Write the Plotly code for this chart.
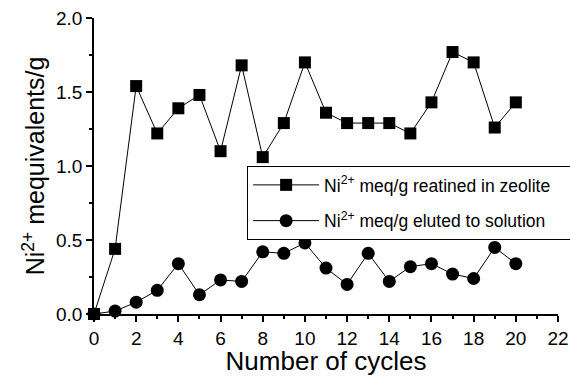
import plotly.graph_objects as go

cycles = list(range(0, 21))
retained = [0.0, 0.44, 1.54, 1.22, 1.39, 1.48, 1.10, 1.68, 1.06, 1.29, 1.70,
            1.36, 1.29, 1.29, 1.29, 1.22, 1.43, 1.77, 1.70, 1.26, 1.43]
eluted = [0.0, 0.02, 0.08, 0.16, 0.34, 0.13, 0.23, 0.22, 0.42, 0.41, 0.48,
          0.31, 0.20, 0.41, 0.22, 0.32, 0.34, 0.27, 0.24, 0.45, 0.34]

fig = go.Figure()
fig.add_trace(go.Scatter(
    x=cycles, y=retained, mode="lines+markers",
    name="Ni<sup>2+</sup> meq/g reatined in zeolite" + "\u00a0" * 6,
    legendgroup="a",
    line=dict(color="black", width=1),
    marker=dict(symbol="square", size=12, color="black"),
    cliponaxis=False))
fig.add_trace(go.Scatter(
    x=cycles, y=eluted, mode="lines+markers",
    name="Ni<sup>2+</sup> meq/g eluted to solution",
    legendgroup="b",
    line=dict(color="black", width=1),
    marker=dict(symbol="circle", size=13, color="black"),
    cliponaxis=False))

font_family = "Liberation Sans, Arial, sans-serif"
fig.update_layout(
    width=570, height=376,
    margin=dict(l=94, r=12, t=18, b=62, autoexpand=False),
    paper_bgcolor="white", plot_bgcolor="white",
    font=dict(family=font_family, color="black", size=18),
    showlegend=True,
    legend=dict(x=0.33, y=0.5, xanchor="left", yanchor="top",
                bordercolor="black", borderwidth=1, bgcolor="white",
                font=dict(size=17.5), tracegroupgap=10, itemwidth=66),
    xaxis=dict(range=[0, 22], tickmode="array", tickvals=list(range(0, 23, 2)),
               showline=True, linecolor="black", linewidth=1.5,
               ticks="outside", ticklen=6, tickwidth=1.5, tickcolor="black",
               minor=dict(ticks="outside", ticklen=3, tickcolor="black", dtick=1, tickwidth=1.5),
               showgrid=False, zeroline=False,
               title=dict(text="Number of cycles", font=dict(size=26), standoff=6),
               tickfont=dict(size=19)),
    yaxis=dict(range=[0, 2.0], tickmode="array", tickvals=[0, 0.5, 1.0, 1.5, 2.0],
               ticktext=["0.0", "0.5", "1.0", "1.5", "2.0"],
               showline=True, linecolor="black", linewidth=1.5,
               ticks="outside", ticklen=6, tickwidth=1.5, tickcolor="black",
               minor=dict(ticks="outside", ticklen=3, tickcolor="black", dtick=0.25, tickwidth=1.5),
               showgrid=False, zeroline=False,
               title=dict(text="Ni<sup>2+</sup> mequivalents/g", font=dict(size=25), standoff=4),
               tickfont=dict(size=19)),
)

fig.write_html("out.html", config={"displayModeBar": False},
               post_script="document.body.style.margin='0';")
